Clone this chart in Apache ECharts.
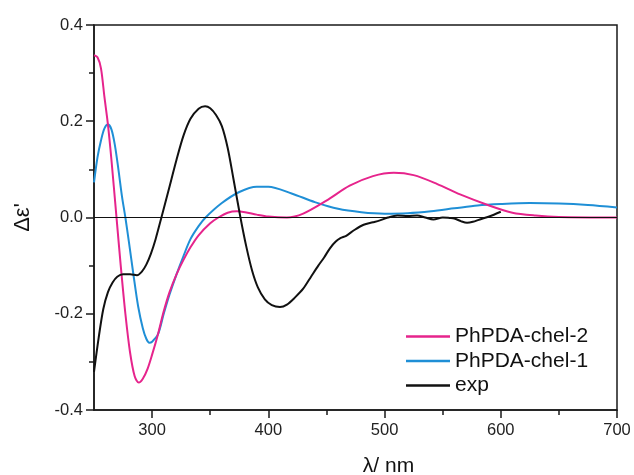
<!DOCTYPE html>
<html>
<head>
<meta charset="utf-8">
<script src="https://cdn.jsdelivr.net/npm/echarts@6/dist/echarts.min.js"></script>
<style>
  html, body { margin: 0; padding: 0; background: #fff; }
  #chart { width: 634px; height: 475px; }
</style>
</head>
<body>
<div id="chart"></div>
<script>
// wavelength (nm) / delta epsilon pairs
var chel2 = [
  [250, 0.337], [253, 0.333], [256, 0.31], [259, 0.25], [262, 0.193], [265, 0.12],
  [269, 0.01], [273, -0.1], [277, -0.2], [281, -0.28], [285, -0.33], [288.5, -0.343],
  [292, -0.335], [296, -0.315], [300, -0.285], [305, -0.243], [310, -0.195], [315, -0.155],
  [321, -0.118], [327, -0.088], [333, -0.062], [340, -0.037], [350, -0.012], [357, 0.0],
  [365, 0.01], [373, 0.013], [380, 0.011], [390, 0.006], [400, 0.002], [416, 0.0],
  [430, 0.008], [450, 0.035], [470, 0.066], [490, 0.086], [508, 0.093], [525, 0.088],
  [545, 0.07], [565, 0.048], [590, 0.025], [610, 0.01], [630, 0.004], [650, 0.001], [700, 0.0]
];

var chel1 = [
  [250, 0.073], [253, 0.125], [256, 0.16], [259, 0.185], [262, 0.193], [265, 0.183],
  [268, 0.15], [271, 0.1], [274, 0.045], [277, 0.0], [280, -0.05], [284, -0.12],
  [288, -0.185], [292, -0.23], [295, -0.252], [297.6, -0.26], [300, -0.258], [305, -0.243],
  [310, -0.2], [315, -0.16], [321, -0.118], [327, -0.08], [333, -0.045], [340, -0.018],
  [346, 0.0], [360, 0.03], [375, 0.053], [390, 0.064], [400, 0.064], [420, 0.05],
  [440, 0.032], [460, 0.018], [480, 0.011], [500, 0.008], [520, 0.009], [540, 0.013],
  [560, 0.019], [580, 0.025], [600, 0.028], [625, 0.03], [650, 0.029], [675, 0.026], [700, 0.021]
];

var expData = [
  [250, -0.321], [254, -0.25], [258, -0.19], [262, -0.155], [266, -0.135], [270, -0.123],
  [275, -0.118], [281, -0.118], [287, -0.12], [291, -0.113], [295, -0.098], [299, -0.075],
  [303, -0.045], [308, 0.0], [314, 0.055], [321, 0.12], [327, 0.17], [333, 0.205],
  [340, 0.226], [345.6, 0.231], [350, 0.227], [355, 0.213], [360, 0.19], [365, 0.145],
  [370, 0.08], [376, 0.0], [381, -0.06], [386, -0.11], [391, -0.145], [397, -0.17],
  [403, -0.182], [410, -0.186], [416, -0.181], [423, -0.166], [430, -0.148], [437, -0.122],
  [443, -0.1], [448, -0.083], [453, -0.064], [458, -0.05], [462, -0.043], [467, -0.038],
  [474, -0.026], [482, -0.015], [490, -0.01], [496, -0.006], [503, 0.0], [511, 0.004],
  [520, 0.003], [528, 0.004], [535, 0.0], [542, -0.004], [550, 0.0], [556, -0.001],
  [560, -0.002], [566, -0.008], [571, -0.011], [576, -0.009], [582, -0.004], [590, 0.002],
  [600, 0.012]
];

var xMajorTicks = [300, 400, 500, 600, 700];
var xMinorTicks = [350, 450, 550, 650];

var axisColor = '#1a1a1a';
var fontFamily = 'Liberation Sans, Arial, sans-serif';
var labelFont = { fontFamily: fontFamily, fontSize: 16.5, color: '#222' };

var chart = echarts.init(document.getElementById('chart'), null, { renderer: 'canvas' });

chart.setOption({
  animation: false,
  backgroundColor: '#fff',
  grid: {
    left: 94, top: 25, right: 17, bottom: 65,
    outerBoundsMode: 'none', containLabel: false,
    show: true, borderColor: axisColor, borderWidth: 1.5, backgroundColor: 'transparent'
  },
  legend: {
    orient: 'vertical',
    left: 406, top: 326, padding: 0,
    icon: 'rect',
    itemWidth: 44, itemHeight: 2.5, itemGap: 3.5,
    textStyle: { fontFamily: fontFamily, fontSize: 21, color: '#111' },
    data: ['PhPDA-chel-2', 'PhPDA-chel-1', 'exp']
  },
  xAxis: [{
    type: 'value', min: 250, max: 700,
    name: 'λ/ nm', nameLocation: 'middle', nameGap: 46,
    nameTextStyle: { fontFamily: fontFamily, fontSize: 21, color: '#111', padding: [0, 0, 0, 66] },
    axisLine: { show: true, onZero: false, lineStyle: { color: axisColor, width: 1.5 } },
    axisTick: { show: true, length: 8, customValues: xMajorTicks, lineStyle: { color: axisColor, width: 1.5 } },
    axisLabel: Object.assign({ margin: 12, customValues: xMajorTicks }, labelFont),
    splitLine: { show: false }
  }, {
    type: 'value', min: 250, max: 700, position: 'bottom',
    axisLine: { show: false, onZero: false },
    axisTick: { show: true, length: 5, customValues: xMinorTicks, lineStyle: { color: axisColor, width: 1.5 } },
    axisLabel: { show: false },
    splitLine: { show: false }
  }],
  yAxis: {
    type: 'value', min: -0.4, max: 0.4, interval: 0.2,
    name: 'Δε\'', nameLocation: 'middle', nameGap: 60, nameRotate: 90,
    nameTextStyle: { fontFamily: fontFamily, fontSize: 22, color: '#111' },
    axisLine: { show: true, onZero: false, lineStyle: { color: axisColor, width: 1.5 } },
    axisTick: { show: true, length: 8, lineStyle: { color: axisColor, width: 1.5 } },
    minorTick: { show: true, splitNumber: 2, length: 5, lineStyle: { color: axisColor, width: 1.5 } },
    axisLabel: Object.assign({ margin: 11, formatter: function (v) { return v.toFixed(1); } }, labelFont),
    splitLine: { show: false }
  },
  series: [{
    name: 'PhPDA-chel-2', type: 'line', data: chel2, smooth: 0.3, symbol: 'none',
    lineStyle: { color: '#e6248c', width: 2 }, itemStyle: { color: '#e6248c' }, z: 3
  }, {
    name: 'PhPDA-chel-1', type: 'line', data: chel1, smooth: 0.3, symbol: 'none',
    lineStyle: { color: '#1f8fd6', width: 2 }, itemStyle: { color: '#1f8fd6' }, z: 2
  }, {
    name: 'exp', type: 'line', data: expData, smooth: 0.3, symbol: 'none',
    lineStyle: { color: '#111', width: 2 }, itemStyle: { color: '#111' }, z: 4,
    markLine: {
      silent: true, symbol: 'none', label: { show: false },
      lineStyle: { color: '#111', width: 1.2, type: 'solid' },
      data: [{ yAxis: 0 }]
    }
  }]
});
</script>
</body>
</html>
